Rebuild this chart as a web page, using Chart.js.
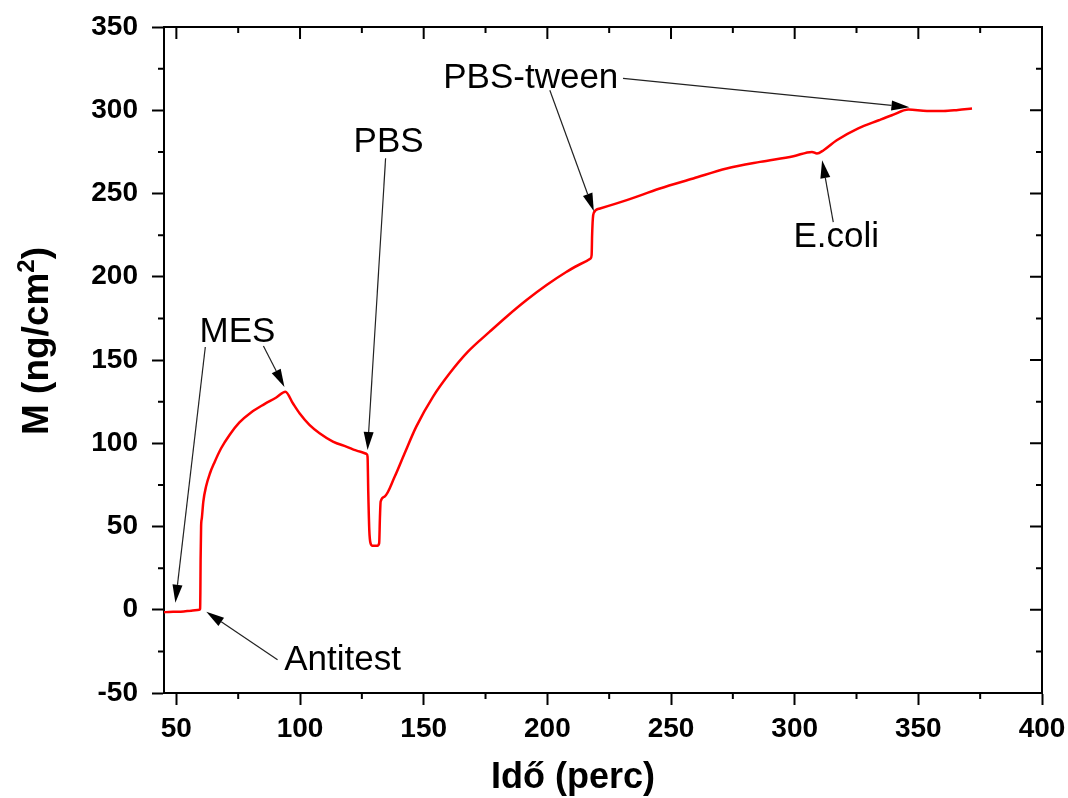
<!DOCTYPE html>
<html>
<head>
<meta charset="utf-8">
<script src="https://cdn.jsdelivr.net/npm/chart.js@4/dist/chart.umd.min.js"></script>
<style>
  body { margin: 0; background: #fff; }
  #wrap { width: 1068px; height: 798px; }
</style>
</head>
<body>
<div id="wrap"><canvas id="qcm-chart"></canvas></div>
<script>
// time (min) and adsorbed mass (ng/cm2)
const timeMin = [
  45.0, 47, 50, 53, 56, 59.3, 59.6, 59.7, 59.8, 60.0, 60.3,
  60.9, 62.0, 63.6, 65.4, 68.1, 71.5, 75.5, 80.2, 85.6, 90.4, 94.1,
  97.1, 99.8, 103.8, 107.9, 113.3, 118.7, 124.1, 127.0,
  127.3, 127.6, 128.0, 128.5, 129.3, 131.3, 132.0, 132.3, 132.6, 134.2,
  138.3, 142.3, 147.0, 153.8, 160.5, 167.9, 176.7, 183.5, 191.6, 199.7,
  207.8, 213.2, 217.5,
  217.9, 218.1, 218.4, 218.8, 221.3, 232.1, 245.5, 259, 272.5, 286, 299.5,
  307, 309, 311.7, 317, 325.5, 334, 339.3, 346, 353.5, 360.2, 366, 371.7
];
const massNg = [
  -1.5, -1.3, -1.2, -1.0, -0.6, 0, 0.5, 10, 30, 50, 55,
  65, 74, 82, 88.5, 97, 105, 112.5, 118.5, 123.5, 127.5, 131,
  124, 118, 111, 106, 101, 98, 95, 93.5,
  92, 70, 48, 40, 38.5, 38.5, 40, 55, 65, 68,
  80, 94, 110, 128, 142, 155, 167, 176, 186, 195,
  203, 207.5, 211,
  213, 225, 235, 238.5, 241, 246, 253, 259, 265, 269, 272.4,
  275, 274, 276, 282, 289, 294, 297, 300.4, 299.6, 299.6, 300.2, 301
];

// axis ticks
const xTicks = [50, 100, 150, 200, 250, 300, 350, 400];
const xMinor = [75, 125, 175, 225, 275, 325, 375];
const yTicks = [-50, 0, 50, 100, 150, 200, 250, 300, 350];
const yMinor = [-25, 25, 75, 125, 175, 225, 275, 325];

// labels with arrows: text baseline point + arrows [fromX, fromY, toX, toY] in data units
const notes = [
  { text: "MES", x: 74.7, y: 160.8, arrows: [[61.7, 157.8, 49.6, 4.2], [85.2, 158.4, 93.7, 133.8]] },
  { text: "PBS", x: 135.8, y: 274.8, arrows: [[134.6, 271.2, 127.3, 96]] },
  { text: "PBS-tween", x: 193.3, y: 313.5, arrows: [[201, 312, 218.8, 239.4], [230.6, 319.2, 346.4, 301.8]] },
  { text: "E.coli", x: 316.8, y: 217.8, arrows: [[315.6, 232.8, 311.1, 270]] },
  { text: "Antitest", x: 117.2, y: -36, arrows: [[90.9, -30, 62.1, -1.2]] }
];

const FONT = '"Liberation Sans", Arial, sans-serif';

function drawArrow(ctx, x1, y1, x2, y2) {
  const ang = Math.atan2(y2 - y1, x2 - x1);
  const len = 18, half = 5;
  const bx = x2 - len * Math.cos(ang), by = y2 - len * Math.sin(ang);
  ctx.beginPath();
  ctx.moveTo(x1, y1);
  ctx.lineTo(bx, by);
  ctx.stroke();
  ctx.beginPath();
  ctx.moveTo(x2, y2);
  ctx.lineTo(bx + half * Math.sin(ang), by - half * Math.cos(ang));
  ctx.lineTo(bx - half * Math.sin(ang), by + half * Math.cos(ang));
  ctx.closePath();
  ctx.fill();
}

// frame, minor ticks, mirrored ticks, titles and arrows
const extras = {
  id: "extras",
  afterDraw(chart) {
    const { ctx, chartArea: a, scales: { x, y } } = chart;
    ctx.save();
    ctx.strokeStyle = "#000";
    ctx.lineWidth = 2;
    ctx.beginPath();
    ctx.moveTo(a.left, a.top);
    ctx.lineTo(a.right, a.top);
    ctx.lineTo(a.right, a.bottom);
    ctx.stroke();

    ctx.beginPath();
    xTicks.forEach((v) => {
      const px = x.getPixelForValue(v);
      ctx.moveTo(px, a.top); ctx.lineTo(px, a.top + 12);
    });
    xMinor.forEach((v) => {
      const px = x.getPixelForValue(v);
      ctx.moveTo(px, a.top); ctx.lineTo(px, a.top + 6);
      ctx.moveTo(px, a.bottom); ctx.lineTo(px, a.bottom + 6);
    });
    yTicks.forEach((v) => {
      const py = y.getPixelForValue(v);
      ctx.moveTo(a.right, py); ctx.lineTo(a.right - 12, py);
    });
    yMinor.forEach((v) => {
      const py = y.getPixelForValue(v);
      ctx.moveTo(a.right, py); ctx.lineTo(a.right - 6, py);
      ctx.moveTo(a.left, py); ctx.lineTo(a.left - 6, py);
    });
    ctx.stroke();

    // annotations
    ctx.strokeStyle = "#222";
    ctx.fillStyle = "#000";
    ctx.lineWidth = 1.2;
    ctx.font = "35px " + FONT;
    ctx.textAlign = "center";
    ctx.textBaseline = "alphabetic";
    notes.forEach((n) => {
      ctx.fillText(n.text, x.getPixelForValue(n.x), y.getPixelForValue(n.y));
      n.arrows.forEach((ar) => {
        drawArrow(ctx,
          x.getPixelForValue(ar[0]), y.getPixelForValue(ar[1]),
          x.getPixelForValue(ar[2]), y.getPixelForValue(ar[3]));
      });
    });

    // x title
    ctx.font = "bold 36px " + FONT;
    ctx.fillText("Idő (perc)", (a.left + a.right) / 2 - 30, 788);

    // y title with superscript
    ctx.save();
    ctx.translate(48, (a.top + a.bottom) / 2 - 19);
    ctx.rotate(-Math.PI / 2);
    ctx.textAlign = "left";
    const main = "M (ng/cm", sup = "2", tail = ")";
    ctx.font = "bold 37px " + FONT;
    const w1 = ctx.measureText(main).width, w3 = ctx.measureText(tail).width;
    ctx.font = "bold 24px " + FONT;
    const w2 = ctx.measureText(sup).width;
    let sx = -(w1 + w2 + w3) / 2;
    ctx.font = "bold 37px " + FONT;
    ctx.fillText(main, sx, 0);
    ctx.font = "bold 24px " + FONT;
    ctx.fillText(sup, sx + w1, -14);
    ctx.font = "bold 37px " + FONT;
    ctx.fillText(tail, sx + w1 + w2, 0);
    ctx.restore();

    ctx.restore();
  }
};

new Chart(document.getElementById("qcm-chart"), {
  type: "line",
  data: {
    labels: timeMin,
    datasets: [
      {
        data: timeMin.map((t, i) => ({ x: t, y: massNg[i] })),
        borderColor: "#ff0000",
        borderWidth: 2.5,
        pointRadius: 0,
        cubicInterpolationMode: "monotone",
        fill: false,
      },
    ],
  },
  options: {
    responsive: true,
    maintainAspectRatio: false,
    animation: false,
    layout: { padding: { left: 0, top: 27, right: 26, bottom: 0 } },
    plugins: {
      legend: { display: false },
      tooltip: { enabled: false },
    },
    scales: {
      x: {
        type: "linear",
        min: 45,
        max: 400,
        afterBuildTicks: (s) => { s.ticks = xTicks.map((v) => ({ value: v })); },
        afterFit: (s) => { s.height = 105; s.paddingLeft = 0; s.paddingRight = 0; },
        grid: { drawOnChartArea: false, tickLength: 12, tickWidth: 2, tickColor: "#000" },
        border: { color: "#000", width: 2 },
        ticks: { color: "#000", padding: 7, maxRotation: 0, font: { family: FONT, weight: "bold", size: 28 } },
      },
      y: {
        type: "linear",
        min: -50,
        max: 350,
        afterBuildTicks: (s) => { s.ticks = yTicks.map((v) => ({ value: v })); },
        afterFit: (s) => { s.width = 164; s.paddingTop = 0; s.paddingBottom = 0; },
        grid: { drawOnChartArea: false, tickLength: 12, tickWidth: 2, tickColor: "#000" },
        border: { color: "#000", width: 2 },
        ticks: { color: "#000", padding: 14, font: { family: FONT, weight: "bold", size: 28 } },
      },
    },
  },
  plugins: [extras],
});
</script>
</body>
</html>
